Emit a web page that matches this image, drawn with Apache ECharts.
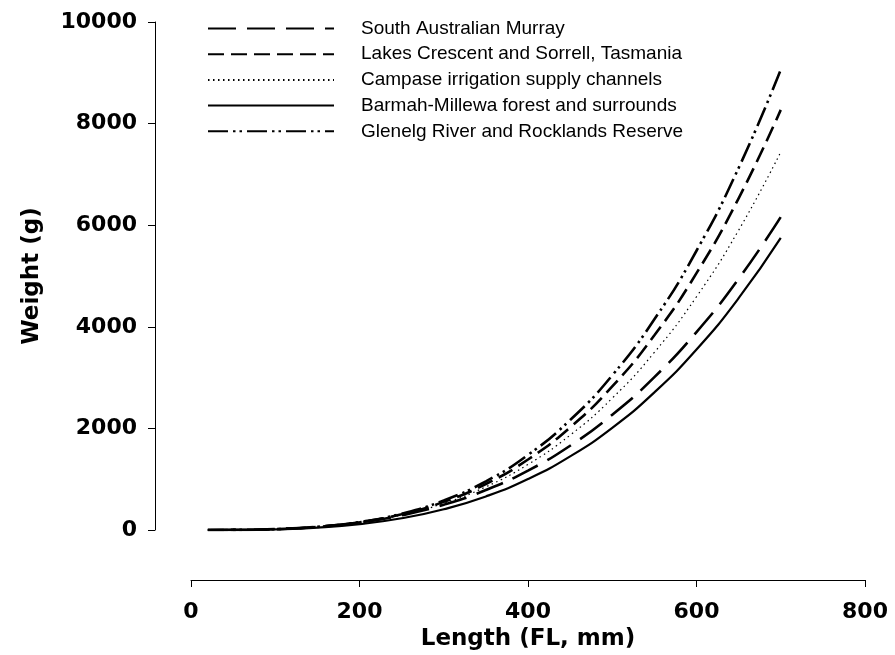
<!DOCTYPE html>
<html>
<head>
<meta charset="utf-8">
<script src="https://cdn.jsdelivr.net/npm/echarts@6/dist/echarts.min.js"></script>
<style>
html,body{margin:0;padding:0;background:#fff;}
#chart{width:895px;height:655px;}
</style>
</head>
<body>
<div id="chart"></div>
<script>
// Fork length (mm) at which the curves are sampled
const lengths = [20, 50, 100, 150, 200, 250, 300, 350, 400, 450, 500, 550, 600, 650, 700];
// Weight (g)
const southAustralianMurray = [0.16, 2.4, 19, 64, 149, 289, 497, 787, 1169, 1659, 2268, 3009, 3897, 4943, 6160];
const lakesCrescentSorrell  = [0.1, 1.8, 16.7, 61, 152, 309, 554, 906, 1388, 2020, 2827, 3832, 5056, 6529, 8270];
const campaseChannels       = [0.11, 1.9, 16.8, 60, 147, 296, 525, 850, 1291, 1867, 2595, 3497, 4592, 5900, 7440];
const barmahMillewa         = [0.09, 1.5, 13.3, 47, 115, 231, 409, 661, 1003, 1449, 2012, 2710, 3554, 4563, 5750];
const glenelgRocklands      = [0.09, 1.75, 16.6, 62, 156, 322, 582, 959, 1478, 2165, 3045, 4147, 5497, 7127, 9060];

const seriesNames = [
  'South Australian Murray',
  'Lakes Crescent and Sorrell, Tasmania',
  'Campase irrigation supply channels',
  'Barmah-Millewa forest and surrounds',
  'Glenelg River and Rocklands Reserve'
];
const seriesValues = [southAustralianMurray, lakesCrescentSorrell, campaseChannels, barmahMillewa, glenelgRocklands];
const dashStyles = [
  {type: [28, 11], width: 2.6},
  {type: [16, 7], width: 2.6},
  {type: [1.5, 3.5], width: 1.2},
  {type: 'solid', width: 2.2},
  {type: [20, 5, 2.5, 4, 2.5, 5], width: 2.6}
];

const chart = echarts.init(document.getElementById('chart'), null, {renderer: 'canvas'});
const labelFont = {fontFamily: 'DejaVu Sans', fontWeight: 'bold', fontSize: 22, color: '#000'};
const titleFont = {fontFamily: 'DejaVu Sans', fontWeight: 'bold', fontSize: 23, color: '#000'};

chart.setOption({
  animation: false,
  backgroundColor: '#fff',
  grid: {left: 191, right: 30, top: 22, bottom: 125, containLabel: false, outerBoundsMode: 'none'},
  legend: {
    orient: 'vertical',
    left: 202,
    top: 14,
    itemWidth: 126,
    itemHeight: 20,
    itemGap: 6.7,
    itemStyle: {color: 'transparent', borderColor: 'transparent', borderWidth: 0},
    textStyle: {fontFamily: 'Liberation Sans', fontSize: 19, color: '#000', padding: [0, 0, 0, 22]},
    data: seriesNames
  },
  xAxis: {
    type: 'value',
    min: 0, max: 800, interval: 200,
    offset: 50,
    name: 'Length (FL, mm)',
    nameLocation: 'middle',
    nameGap: 46,
    nameTextStyle: titleFont,
    axisLine: {show: true, onZero: false, lineStyle: {color: '#000', width: 1}},
    axisTick: {show: true, inside: false, length: 7, lineStyle: {color: '#000'}},
    axisLabel: Object.assign({margin: 21, formatter: v => String(v)}, labelFont),
    splitLine: {show: false}
  },
  yAxis: {
    type: 'value',
    min: 0, max: 10000, interval: 2000,
    offset: 36,
    name: 'Weight (g)',
    nameLocation: 'middle',
    nameGap: 111,
    nameTextStyle: titleFont,
    axisLine: {show: true, onZero: false, lineStyle: {color: '#000', width: 1}},
    axisTick: {show: true, inside: false, length: 7, lineStyle: {color: '#000'}},
    axisLabel: Object.assign({margin: 18, formatter: v => String(v)}, labelFont),
    splitLine: {show: false}
  },
  series: seriesNames.map((name, i) => ({
    name: name,
    type: 'line',
    smooth: true,
    symbol: 'none',
    itemStyle: {color: '#000'},
    lineStyle: Object.assign({color: '#000'}, dashStyles[i]),
    data: lengths.map((l, j) => [l, seriesValues[i][j]])
  }))
});
</script>
</body>
</html>
